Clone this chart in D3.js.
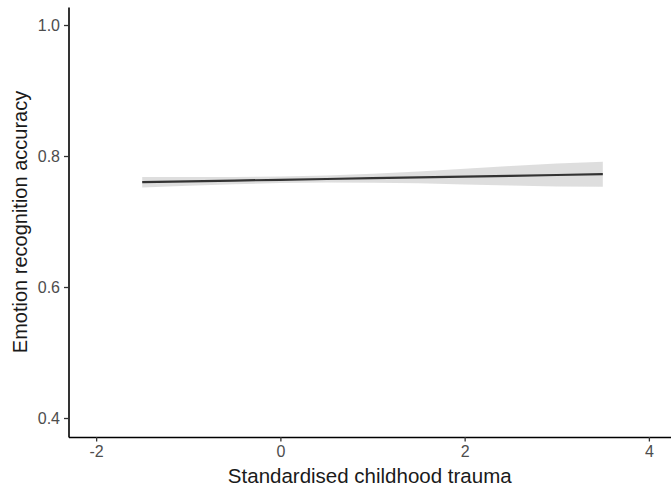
<!DOCTYPE html>
<html>
<head>
<meta charset="utf-8">
<script src="https://cdn.jsdelivr.net/npm/d3@7"></script>
<style>
  body { margin: 0; background: #fff; }
  svg { display: block; font-family: "Liberation Sans", Arial, sans-serif; }
</style>
</head>
<body>
<svg id="chart" width="671" height="490"></svg>
<script>
// Fitted trend of accuracy on standardised trauma, with its confidence band
var trauma   = [-1.5, -1, -0.5, 0, 0.5, 1, 1.5, 2, 2.5, 3, 3.5];
var fit      = [0.7600, 0.7613, 0.7625, 0.7637, 0.7649, 0.7661, 0.7674, 0.7686, 0.7698, 0.7710, 0.7722];
var lower    = [0.7520, 0.7547, 0.7570, 0.7587, 0.7594, 0.7593, 0.7584, 0.7566, 0.7548, 0.7535, 0.7532];
var upper    = [0.7680, 0.7679, 0.7680, 0.7687, 0.7704, 0.7729, 0.7764, 0.7806, 0.7848, 0.7885, 0.7912];
var xTicks = [-2, 0, 2, 4];
var yTicks = [0.4, 0.6, 0.8, 1.0];

var rows = trauma.map(function(x, i) {
  return { x: x, y: fit[i], lo: lower[i], hi: upper[i] };
});

var svg = d3.select("#chart");

// Scales: panel runs from the axis line to the right edge
var x = d3.scaleLinear().domain([-2.30, 4.24]).range([68.5, 671]);
var y = d3.scaleLinear().domain([0.3710, 1.0275]).range([437, 7]);

// Confidence ribbon
svg.append("path")
  .datum(rows)
  .attr("fill", "#999999")
  .attr("fill-opacity", 0.32)
  .attr("d", d3.area()
    .x(function(d) { return x(d.x); })
    .y0(function(d) { return y(d.lo); })
    .y1(function(d) { return y(d.hi); }));

// Fitted line
svg.append("path")
  .datum(rows)
  .attr("fill", "none")
  .attr("stroke", "#333333")
  .attr("stroke-width", 2.2)
  .attr("d", d3.line()
    .x(function(d) { return x(d.x); })
    .y(function(d) { return y(d.y); }));

// Axes
var xAxis = svg.append("g")
  .attr("transform", "translate(0,437)")
  .call(d3.axisBottom(x).tickValues(xTicks).tickSizeInner(4.5).tickSizeOuter(0)
    .tickPadding(4).tickFormat(d3.format("d")));

var yAxis = svg.append("g")
  .attr("transform", "translate(68.5,0)")
  .call(d3.axisLeft(y).tickValues(yTicks).tickSizeInner(4.5).tickSizeOuter(0)
    .tickPadding(4).tickFormat(d3.format(".1f")));

[xAxis, yAxis].forEach(function(g) {
  g.select(".domain").attr("stroke", "#000").attr("stroke-width", 1.6);
  g.selectAll(".tick line").attr("stroke", "#333").attr("stroke-width", 1.3);
  g.selectAll(".tick text")
    .attr("fill", "#4d4d4d")
    .style("font-size", "16px")
    .style("font-family", "'Liberation Sans', Arial, sans-serif");
});
// d3 uses a '−' minus sign; ggplot uses a hyphen
xAxis.selectAll(".tick text").text(function(d) { return String(d); });

// Axis titles
svg.append("text")
  .attr("x", (68.5 + 671) / 2)
  .attr("y", 483)
  .attr("text-anchor", "middle")
  .attr("fill", "#1a1a1a")
  .style("font-size", "20.5px")
  .text("Standardised childhood trauma");

svg.append("text")
  .attr("transform", "translate(27," + ((7 + 437) / 2) + ") rotate(-90)")
  .attr("text-anchor", "middle")
  .attr("fill", "#1a1a1a")
  .style("font-size", "20px")
  .text("Emotion recognition accuracy");
</script>
</body>
</html>
